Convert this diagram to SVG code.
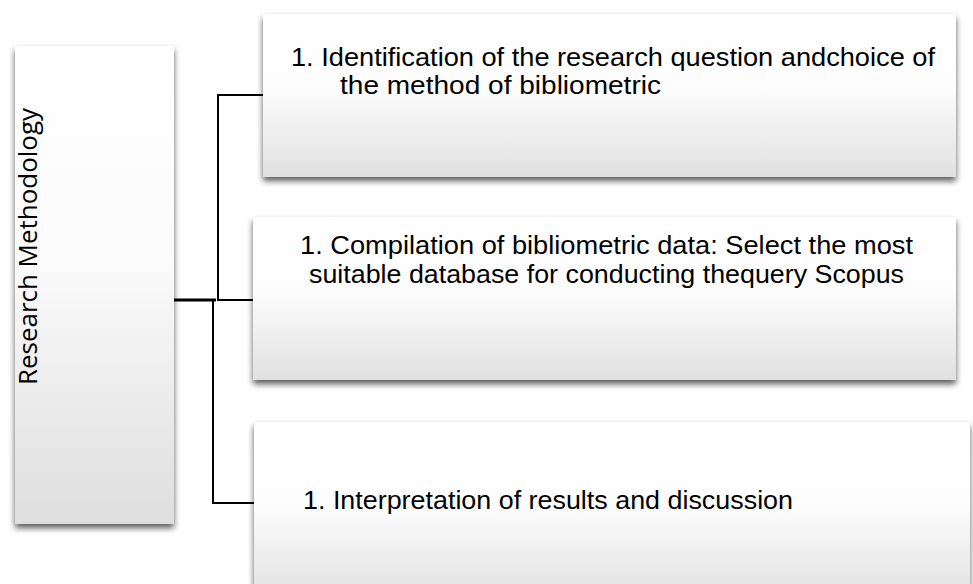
<svg xmlns="http://www.w3.org/2000/svg" width="973" height="584" viewBox="0 0 973 584">
<style>
.box{stroke:none}
.lbl{font-family:"Liberation Sans",Arial,sans-serif;font-size:26px;fill:#000}
.side{font-family:"Open Sans","Noto Sans",sans-serif;font-size:26px;fill:#000}
.conn{stroke:#000;stroke-width:2;fill:none}
</style>
<defs>
<linearGradient id="gBox" x1="0" y1="0" x2="0" y2="1">
<stop offset="0" stop-color="#ffffff"/>
<stop offset="0.45" stop-color="#fdfdfd"/>
<stop offset="1" stop-color="#e0e0e0"/>
</linearGradient>
<linearGradient id="gSide" x1="0" y1="0" x2="0" y2="1">
<stop offset="0" stop-color="#ffffff"/>
<stop offset="0.45" stop-color="#fbfbfb"/>
<stop offset="1" stop-color="#dedede"/>
</linearGradient>
<filter id="sh" x="-10%" y="-10%" width="120%" height="130%">
<feGaussianBlur in="SourceAlpha" stdDeviation="3"/>
<feOffset dx="0" dy="4" result="b"/>
<feComponentTransfer in="b" result="c"><feFuncA type="linear" slope="0.65"/></feComponentTransfer>
<feMerge><feMergeNode in="c"/><feMergeNode in="SourceGraphic"/></feMerge>
</filter>
</defs>
<rect width="973" height="584" fill="#ffffff"/>
<g id="connectors">
<line x1="174" y1="300" x2="216" y2="300" stroke="#000" stroke-width="3"/>
<polyline class="conn" points="263,95 218,95 218,300 253,300"/>
<polyline class="conn" points="213,300 213,503 254,503"/>
</g>
<g id="node-research-methodology">
<rect class="box" x="15" y="46" width="159" height="478" fill="url(#gSide)" filter="url(#sh)"/>
<text class="side" transform="translate(37,385) rotate(-90)" textLength="277" lengthAdjust="spacingAndGlyphs">Research Methodology</text>
</g>
<g id="node-identification">
<rect class="box" x="263" y="14" width="693" height="163" fill="url(#gBox)" filter="url(#sh)"/>
<text class="lbl" x="291" y="66" textLength="644" lengthAdjust="spacingAndGlyphs">1. Identification of the research question andchoice of</text>
<text class="lbl" x="340" y="94" textLength="321" lengthAdjust="spacingAndGlyphs">the method of bibliometric</text>
</g>
<g id="node-compilation">
<rect class="box" x="253" y="217" width="703" height="163" fill="url(#gBox)" filter="url(#sh)"/>
<text class="lbl" x="300" y="254" textLength="613" lengthAdjust="spacingAndGlyphs">1. Compilation of bibliometric data: Select the most</text>
<text class="lbl" x="309" y="283" textLength="595" lengthAdjust="spacingAndGlyphs">suitable database for conducting thequery Scopus</text>
</g>
<g id="node-interpretation">
<rect class="box" x="254" y="422" width="716" height="180" fill="url(#gBox)" filter="url(#sh)"/>
<text class="lbl" x="303" y="509" textLength="490" lengthAdjust="spacingAndGlyphs">1. Interpretation of results and discussion</text>
</g>
</svg>
